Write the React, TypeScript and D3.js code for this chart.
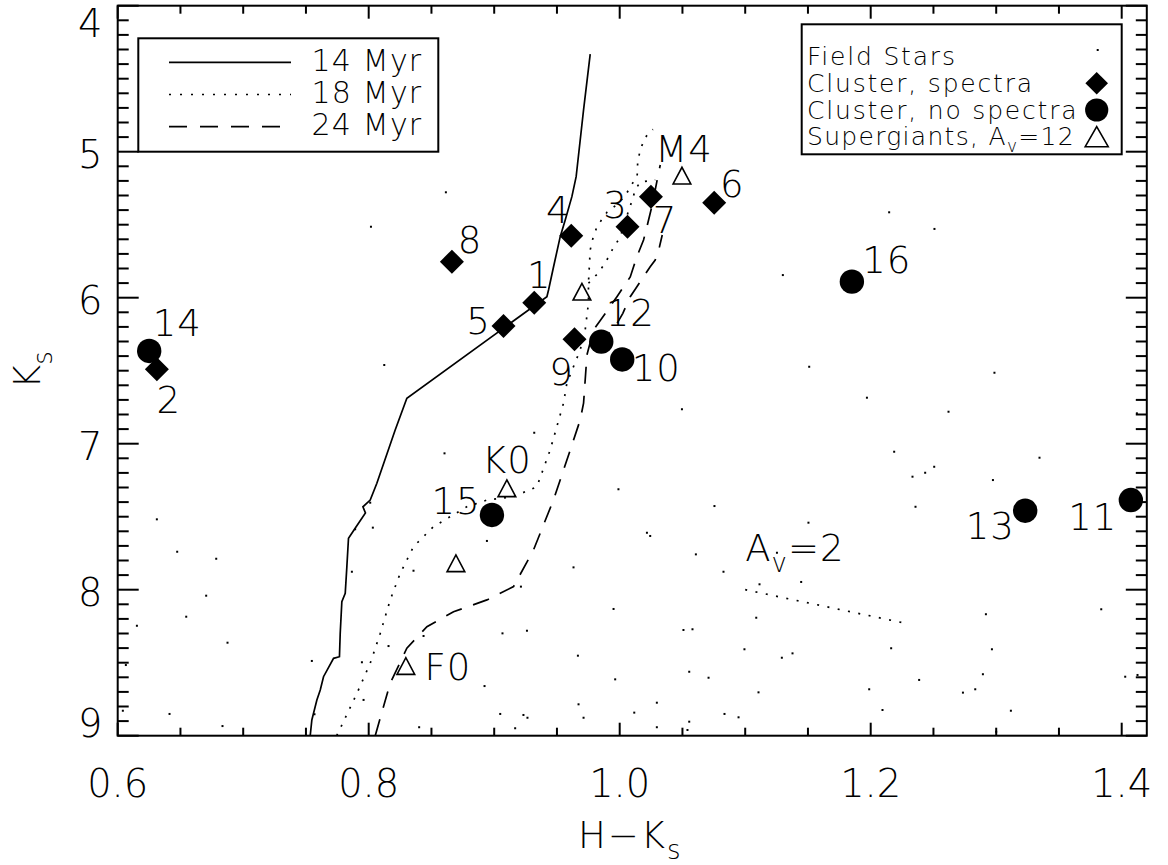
import React from 'react';
import * as d3 from 'd3';

// ---------------- data ----------------
const X_DOMAIN: [number, number] = [0.6, 1.42];
const Y_DOMAIN: [number, number] = [4, 9];
const X_MAJOR = [0.6, 0.8, 1.0, 1.2, 1.4];
const X_LABELS = ['0.6', '0.8', '1.0', '1.2', '1.4'];
const Y_MAJOR = [4, 5, 6, 7, 8, 9];
const Y_LABELS = ['4', '5', '6', '7', '8', '9'];

// 14 Myr isochrone (solid)
const iso14: [number, number][] = [
  [0.9765, 4.331], [0.9712, 4.714], [0.9653, 5.171], [0.9619, 5.308], [0.9566, 5.468],
  [0.9526, 5.582], [0.9473, 5.788], [0.9433, 5.947], [0.942, 5.993], [0.8304, 6.689],
  [0.8211, 6.906], [0.8065, 7.271], [0.8012, 7.386], [0.7954, 7.432], [0.7974, 7.474],
  [0.7892, 7.579], [0.7839, 7.648], [0.7826, 7.842], [0.7813, 8.025], [0.7786, 8.082],
  [0.7773, 8.299], [0.7767, 8.459], [0.772, 8.47], [0.764, 8.596], [0.7614, 8.687],
  [0.7587, 8.755], [0.7547, 8.892], [0.7534, 9.0],
];
// 18 Myr isochrone (dotted), two branches
const iso18a: [number, number][] = [
  [0.7745, 9.0], [0.7786, 8.927], [0.7906, 8.71], [0.8012, 8.504], [0.8092, 8.299],
  [0.8171, 8.071], [0.8251, 7.888], [0.8357, 7.705], [0.8516, 7.568], [0.8782, 7.432],
  [0.8942, 7.386], [0.9154, 7.363], [0.934, 7.295], [0.9446, 7.043], [0.9552, 6.723],
  [0.9579, 6.586], [0.9685, 6.358], [0.9725, 6.221], [0.9751, 6.038], [0.9751, 5.901],
  [0.9765, 5.673], [0.9789, 5.584], [0.9821, 5.509], [0.99, 5.413], [0.9964, 5.371],
  [1.0044, 5.303], [1.0092, 5.228], [1.0139, 5.173], [1.0143, 5.077], [1.0163, 4.988],
  [1.0195, 4.92], [1.0227, 4.872], [1.0265, 4.847],
];
const iso18b: [number, number][] = [
  [0.9751, 5.901], [0.9821, 5.838], [0.9885, 5.762], [0.994, 5.673], [1.0004, 5.584],
  [1.006, 5.433], [1.01, 5.331], [1.0124, 5.262], [1.0163, 5.207], [1.0227, 5.2],
  [1.0283, 5.193],
];
// 24 Myr isochrone (dashed), two branches
const iso24a: [number, number][] = [
  [0.8052, 9.0], [0.8171, 8.641], [0.8304, 8.401], [0.8464, 8.253], [0.8676, 8.151],
  [0.8942, 8.07], [0.9154, 7.979], [0.9313, 7.728], [0.9472, 7.386], [0.9606, 7.043],
  [0.9685, 6.838], [0.9712, 6.723], [0.9739, 6.392], [0.9791, 6.221], [0.9858, 6.141],
  [0.9978, 5.993], [1.0084, 5.858], [1.0137, 5.719], [1.019, 5.605], [1.0217, 5.514],
  [1.0259, 5.365], [1.0296, 5.205], [1.0323, 5.091],
];
const iso24b: [number, number][] = [
  [0.9829, 6.324], [0.9964, 6.199], [1.0025, 6.107], [1.0084, 5.993], [1.0137, 5.925],
  [1.019, 5.856], [1.0243, 5.788], [1.0283, 5.742], [1.0317, 5.651], [1.0339, 5.571],
];
// reddening vector A_V = 2
const avVector: [number, number][] = [[1.1, 8.0], [1.2277, 8.23]];

// field stars
const fieldHK = [
  0.8018, 0.8615, 0.8124, 1.0496, 1.2147, 1.2508, 1.13, 0.6312, 0.6474, 0.6785,
  0.8012, 0.7892, 0.8033, 0.7866, 0.9319, 0.8604, 0.999, 1.0217, 1.0243, 0.8942,
  0.8357, 0.9632, 0.9213, 0.9951, 0.9066, 0.9261, 0.8437, 0.8158, 0.9667, 0.7547,
  0.7946, 0.8923, 0.9964, 0.7959, 0.9672, 0.9712, 1.0296, 1.0116, 0.9048, 0.9233,
  0.9265, 0.7568, 0.8402, 0.9167, 1.0296, 1.262, 1.2187, 1.3345, 1.2333, 1.2434,
  1.2506, 1.2974, 1.0755, 1.2357, 1.1504, 1.0607, 1.1253, 1.0827, 1.1446, 1.1114,
  1.1088, 1.2918, 1.3837, 1.0508, 1.058, 1.0994, 1.1292, 1.1377, 1.2163, 1.2966,
  1.0554, 1.0708, 1.1106, 1.1988, 1.2386, 1.2735, 1.2833, 1.2894, 1.4028, 1.4126,
  1.0835, 1.0947, 1.0554, 1.054, 1.2094, 1.3117, 1.3, 0.6705, 0.6546, 0.6153,
  0.6875, 0.6065, 0.6041, 0.6413, 0.6835, 1.151, 1.197, 1.2986, 1.4121,
];
const fieldKs = [
  5.514, 5.278, 6.461, 6.764, 5.415, 5.529, 5.845, 7.518, 7.74, 7.788,
  7.404, 7.586, 7.575, 7.877, 6.925, 7.066, 7.312, 7.61, 7.632, 7.666,
  7.87, 7.847, 7.979, 8.132, 8.299, 8.281, 8.317, 8.386, 8.452, 8.488,
  8.497, 8.66, 8.614, 8.755, 8.785, 8.877, 8.774, 8.842, 8.851, 8.858,
  8.877, 8.853, 8.942, 8.949, 8.942, 6.781, 7.055, 7.096, 7.226, 7.199,
  7.158, 7.249, 7.427, 7.432, 7.541, 7.758, 7.747, 7.877, 7.947, 7.963,
  8.192, 8.168, 8.134, 8.276, 8.271, 8.408, 8.466, 8.436, 8.401, 8.408,
  8.562, 8.603, 8.703, 8.682, 8.618, 8.705, 8.682, 8.579, 8.596, 8.584,
  8.851, 8.874, 8.904, 8.961, 8.824, 8.829, 8.973, 8.041, 8.185, 8.247,
  8.363, 8.516, 8.829, 8.851, 8.934, 6.473, 6.685, 6.514, 6.792,
];

// cluster members with spectra (diamonds)
const specNames = ['1', '2', '3', '4', '5', '6', '7', '8', '9'];
const specHK = [0.9319, 0.6312, 1.0062, 0.9614, 0.9074, 1.0753, 1.0249, 0.8663, 0.964];
const specKs = [6.034, 6.49, 5.514, 5.575, 6.194, 5.349, 5.308, 5.753, 6.285];

// cluster members without spectra (filled circles)
const noSpecNames = ['10', '11', '12', '13', '14', '15', '16'];
const noSpecHK = [1.002, 1.4073, 0.9853, 1.3231, 0.6251, 0.8982, 1.185];
const noSpecKs = [6.423, 7.386, 6.301, 7.459, 6.365, 7.488, 5.89];

// supergiants, A_V = 12 (open triangles)
const sgNames = ['M4', '', '', 'K0', 'F0'];
const sgHK = [1.0496, 0.9699, 0.8695, 0.9101, 0.8296];
const sgKs = [5.164, 5.959, 7.819, 7.305, 8.523];

const isoLegend = ['14 Myr', '18 Myr', '24 Myr'];

// ---------------- layout (pixels) ----------------
const W = 1168;
const H = 865;
const PL = 117.7;
const PR = 1146.8;
const PT = 5.7;
const PB = 735.7;
const FONT = '"DejaVu Sans", "Liberation Sans", sans-serif';
const FW = 200;

// label offsets in pixels relative to the marker
const labelOffset: Record<string, [number, number]> = {
  '1': [5, -28], '2': [12, 30], '3': [-12, -22], '4': [-13, -26], '5': [-25, -6],
  '6': [18, -19], '7': [14, 23], '8': [18, -22], '9': [-13, 32],
  '10': [34, 8], '11': [-38, 16], '12': [29, -29], '13': [-35, 15], '14': [28, -28],
  '15': [-36, -14], '16': [35, -22],
  M4: [2, -27], K0: [0, -29], F0: [42, 0],
};

const x = d3.scaleLinear().domain(X_DOMAIN).range([PL, PR]);
const y = d3.scaleLinear().domain(Y_DOMAIN).range([PT, PB]);
const line = d3
  .line<[number, number]>()
  .x((d) => x(d[0]))
  .y((d) => y(d[1]));

const diamond = (r: number) => `M0,${-r}L${r},0L0,${r}L${-r},0Z`;
const triangle = (w: number, h: number) =>
  `M${-w / 2},${h / 2}L${w / 2},${h / 2}L0,${-h / 2}Z`;

const LABEL_FS = 37;

function PointLabel({ name, px, py }: { name: string; px: number; py: number }) {
  if (!name) return null;
  const off = labelOffset[name] || [0, 0];
  return (
    <text
      x={px + off[0]}
      y={py + off[1] + LABEL_FS * 0.365}
      textAnchor="middle"
      fontSize={LABEL_FS}
      letterSpacing={1}
    >
      {name}
    </text>
  );
}

export default function App() {
  const xMinor = d3.range(0.6, 1.42 + 1e-9, 0.05);
  const yMinor = d3.range(4, 9 + 1e-9, 0.1);
  const isMajorX = (v: number) => X_MAJOR.some((m) => Math.abs(m - v) < 1e-6);
  const isMajorY = (v: number) => Y_MAJOR.some((m) => Math.abs(m - v) < 1e-6);

  const clipId = 'plotclip';

  return (
    <svg
      width={W}
      height={H}
      style={{ position: 'absolute', left: 0, top: 0, background: '#fff' }}
      fontFamily={FONT}
      fontWeight={FW}
      fill="#000"
    >
      <defs>
        <clipPath id={clipId}>
          <rect x={PL} y={PT} width={PR - PL} height={PB - PT} />
        </clipPath>
      </defs>
      <rect x={0} y={0} width={W} height={H} fill="#fff" />

      {/* field stars */}
      <g>
        {fieldHK.map((hk, i) => (
          <rect key={i} x={x(hk) - 1} y={y(fieldKs[i]) - 1} width={2} height={2} fill="#000" />
        ))}
      </g>

      {/* isochrones */}
      <g clipPath={`url(#${clipId})`} fill="none" stroke="#000" strokeWidth={1.7}>
        <path d={line(iso14) || ''} />
        <path d={line(iso18a) || ''} strokeDasharray="2 8" />
        <path d={line(iso18b) || ''} strokeDasharray="2 8" />
        <path d={line(iso24a) || ''} strokeDasharray="17 12" />
        <path d={line(iso24b) || ''} strokeDasharray="17 12" />
        <path d={line(avVector) || ''} strokeDasharray="2 8.5" />
      </g>

      {/* supergiants */}
      <g>
        {sgHK.map((hk, i) => (
          <g key={i}>
            <path
              d={triangle(17.7, 16.7)}
              transform={`translate(${x(hk)},${y(sgKs[i])})`}
              fill="none"
              stroke="#000"
              strokeWidth={1.6}
            />
            <PointLabel name={sgNames[i]} px={x(hk)} py={y(sgKs[i])} />
          </g>
        ))}
      </g>

      {/* cluster with spectra */}
      <g>
        {specHK.map((hk, i) => (
          <g key={i}>
            <path d={diamond(12)} transform={`translate(${x(hk)},${y(specKs[i])})`} fill="#000" />
            <PointLabel name={specNames[i]} px={x(hk)} py={y(specKs[i])} />
          </g>
        ))}
      </g>

      {/* cluster without spectra */}
      <g>
        {noSpecHK.map((hk, i) => (
          <g key={i}>
            <circle cx={x(hk)} cy={y(noSpecKs[i])} r={12.2} fill="#000" />
            <PointLabel name={noSpecNames[i]} px={x(hk)} py={y(noSpecKs[i])} />
          </g>
        ))}
      </g>

      {/* A_V = 2 label */}
      <text x={x(avVector[0][0])} y={y(avVector[0][1]) - 29} fontSize={LABEL_FS} letterSpacing={1}>
        A
        <tspan fontSize={26} dy={11}>v</tspan>
        <tspan dy={-11}>=2</tspan>
      </text>

      {/* frame */}
      <rect x={PL} y={PT} width={PR - PL} height={PB - PT} fill="none" stroke="#000" strokeWidth={2} />

      {/* ticks */}
      <g stroke="#000" strokeWidth={2}>
        {xMinor.map((v, i) => {
          const len = isMajorX(v) ? 13 : 8;
          return (
            <g key={i}>
              <line x1={x(v)} x2={x(v)} y1={PB} y2={PB - len} />
              <line x1={x(v)} x2={x(v)} y1={PT} y2={PT + len} />
            </g>
          );
        })}
        {yMinor.map((v, i) => {
          const len = isMajorY(v) ? 21 : 11;
          return (
            <g key={i}>
              <line x1={PL} x2={PL + len} y1={y(v)} y2={y(v)} />
              <line x1={PR} x2={PR - len} y1={y(v)} y2={y(v)} />
            </g>
          );
        })}
      </g>

      {/* tick labels */}
      <g fontSize={38.4}>
        {X_MAJOR.map((v, i) => (
          <text key={i} x={x(v)} y={797} textAnchor="middle">
            {X_LABELS[i]}
          </text>
        ))}
        {Y_MAJOR.map((v, i) => {
          const c = Math.max(PT + 17, Math.min(PB - 13, y(v) + 2.5));
          return (
            <text key={i} x={102.5} y={c + 14} textAnchor="end">
              {Y_LABELS[i]}
            </text>
          );
        })}
      </g>

      {/* axis titles */}
      <text x={578} y={848} fontSize={37} letterSpacing={2}>
        H−K
        <tspan fontSize={26} dy={11}>s</tspan>
      </text>
      <text transform="translate(40,389) rotate(-90)" fontSize={37}>
        K
        <tspan fontSize={26} dy={12}>s</tspan>
      </text>

      {/* left legend */}
      <g>
        <rect x={138.3} y={38.3} width={300} height={113.4} fill="#fff" stroke="#000" strokeWidth={2} />
        {isoLegend.map((lab, i) => (
          <g key={i}>
            <line
              x1={169}
              x2={291}
              y1={62.3 + i * 32.2}
              y2={62.3 + i * 32.2}
              stroke="#000"
              strokeWidth={1.7}
              strokeDasharray={i === 0 ? undefined : i === 1 ? '2 9' : '18 13'}
            />
            <text x={311.5} y={70.7 + i * 32.2} fontSize={30} letterSpacing={1.2}>
              {lab}
            </text>
          </g>
        ))}
      </g>

      {/* right legend */}
      <g>
        <rect x={801.7} y={24.3} width={320} height={130} fill="#fff" stroke="#000" strokeWidth={2} />
        <g fontSize={25} letterSpacing={1.8}>
          <text x={807} y={65}>Field Stars</text>
          <text x={807} y={91.8}>Cluster, spectra</text>
          <text x={807} y={118.5}>Cluster, no spectra</text>
          <text x={807} y={145.2} letterSpacing={1.3}>
            Supergiants, A
            <tspan fontSize={17} dy={7}>v</tspan>
            <tspan dy={-7}>=12</tspan>
          </text>
        </g>
        <rect x={1096.7} y={49} width={2} height={2} fill="#000" />
        <path d={diamond(11.3)} transform="translate(1096.7,83.3)" fill="#000" />
        <circle cx={1096.7} cy={110} r={11.6} fill="#000" />
        <path d={triangle(23, 20)} transform="translate(1096.7,136.7)" fill="none" stroke="#000" strokeWidth={1.6} />
      </g>
    </svg>
  );
}
